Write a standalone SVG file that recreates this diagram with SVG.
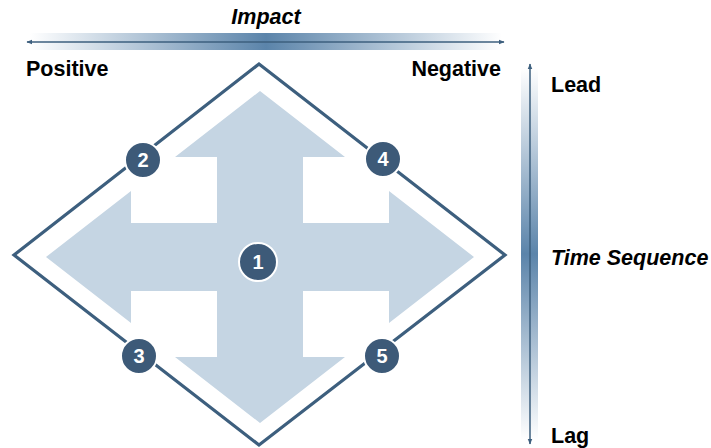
<svg xmlns="http://www.w3.org/2000/svg" width="711" height="448" viewBox="0 0 711 448">
  <defs>
    <linearGradient id="hband" x1="0" y1="0" x2="1" y2="0">
      <stop offset="0" stop-color="#5b84aa" stop-opacity="0"/>
      <stop offset="0.5" stop-color="#5b84aa" stop-opacity="1"/>
      <stop offset="1" stop-color="#5b84aa" stop-opacity="0"/>
    </linearGradient>
    <linearGradient id="vband" x1="0" y1="0" x2="0" y2="1">
      <stop offset="0" stop-color="#5b84aa" stop-opacity="0"/>
      <stop offset="0.5" stop-color="#5b84aa" stop-opacity="1"/>
      <stop offset="1" stop-color="#5b84aa" stop-opacity="0"/>
    </linearGradient>
    <marker id="tip" viewBox="0 0 10 10" refX="9" refY="5" markerWidth="6" markerHeight="6" orient="auto-start-reverse" markerUnits="userSpaceOnUse">
      <path d="M0,1 L10,5 L0,9 Z" fill="#3d5f7e"/>
    </marker>
  </defs>
  <style>
    .lbl { font-family: "Liberation Sans", Arial, sans-serif; font-weight: bold; font-size: 21.5px; fill: #000; }
    .axis { font-style: italic; }
    .axisline { stroke: #3d5f7e; stroke-width: 1.5; fill: none; }
    .badge circle { fill: #3d5a78; stroke: #fff; stroke-width: 2; }
    .badge text { font-family: "Liberation Sans", Arial, sans-serif; font-weight: bold; font-size: 20px; fill: #fff; text-anchor: middle; }
  </style>

  <!-- Impact axis -->
  <g id="impact-axis">
    <rect x="30" y="33" width="472" height="17" fill="url(#hband)"/>
    <line class="axisline" x1="27" y1="42" x2="504" y2="42" marker-start="url(#tip)" marker-end="url(#tip)"/>
    <text class="lbl axis" x="266" y="24" text-anchor="middle">Impact</text>
    <text class="lbl" x="26" y="76">Positive</text>
    <text class="lbl" x="501" y="76" text-anchor="end">Negative</text>
  </g>

  <!-- Time sequence axis -->
  <g id="time-axis">
    <rect x="521" y="68" width="17" height="372" fill="url(#vband)"/>
    <line class="axisline" x1="530" y1="64" x2="530" y2="444" marker-start="url(#tip)" marker-end="url(#tip)"/>
    <text class="lbl" x="551" y="92">Lead</text>
    <text class="lbl axis" x="551" y="265">Time Sequence</text>
    <text class="lbl" x="551" y="443">Lag</text>
  </g>

  <!-- Diamond frame -->
  <g id="frame">
    <polygon points="259,64 505,255 259,445 14,255" fill="none" stroke="#3d5f7e" stroke-width="3.2" stroke-linejoin="miter"/>
  </g>

  <!-- Four-way arrow -->
  <g id="cross">
    <polygon fill="#c5d5e3" points="260,91 345,157 303,157 303,223 389,223 389,191 474,257 389,323 389,291 303,291 303,357 345,357 260,423 175,357 217,357 217,291 131,291 131,323 46,257 131,191 131,223 217,223 217,157 175,157"/>
  </g>

  <!-- Numbered markers -->
  <g id="n1" class="badge"><circle cx="258" cy="262" r="19"/><text x="258" y="269">1</text></g>
  <g id="n2" class="badge"><circle cx="143" cy="160" r="18"/><text x="143" y="167">2</text></g>
  <g id="n3" class="badge"><circle cx="139" cy="356" r="18"/><text x="139" y="363">3</text></g>
  <g id="n4" class="badge"><circle cx="383" cy="159" r="18"/><text x="383" y="166">4</text></g>
  <g id="n5" class="badge"><circle cx="382" cy="356" r="18"/><text x="382" y="363">5</text></g>
</svg>
